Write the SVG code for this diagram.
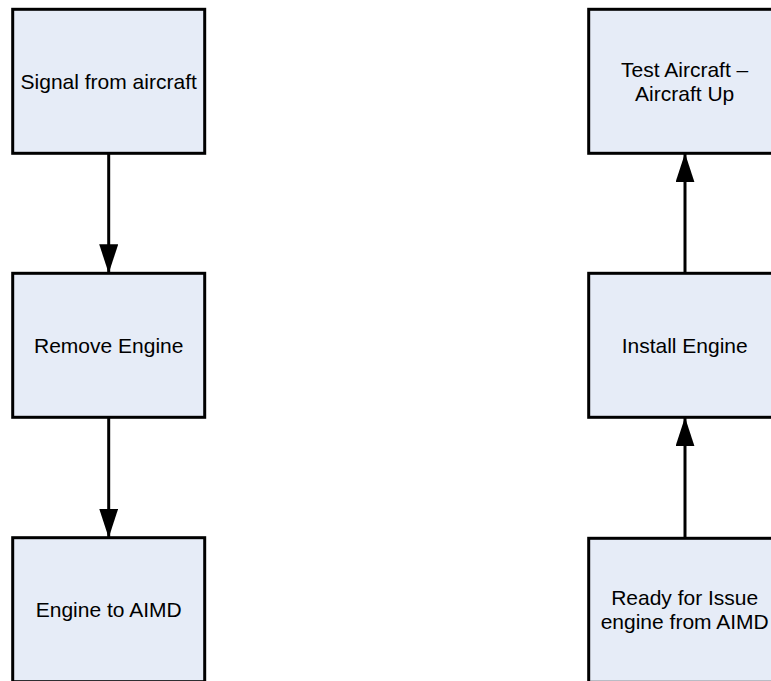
<svg xmlns="http://www.w3.org/2000/svg" width="771" height="681" viewBox="0 0 771 681">
<style>
.box{fill:#E6ECF7;stroke:#000;stroke-width:3}
.lbl{font-family:"Liberation Sans",Arial,sans-serif;font-size:21px;fill:#000;text-anchor:middle}
.conn{stroke:#000;stroke-width:3;fill:none;marker-end:url(#ah)}
</style>
<defs>
<marker id="ah" markerUnits="userSpaceOnUse" markerWidth="30" markerHeight="20" refX="29" refY="9.5" orient="auto" viewBox="0 0 30 20">
<path d="M0,0 L29,9.5 L0,19 Z" fill="#000"/>
</marker>
</defs>
<rect x="0" y="0" width="771" height="681" fill="#fff"/>
<g id="connectors">
<line class="conn" x1="108.7" y1="153.3" x2="108.7" y2="273.3"/>
<line class="conn" x1="108.7" y1="417.3" x2="108.7" y2="537.7"/>
<line class="conn" x1="685" y1="273.3" x2="685" y2="153.3"/>
<line class="conn" x1="685" y1="538.3" x2="685" y2="417.3"/>
</g>
<g id="n1"><rect class="box" x="12.7" y="9.3" width="192" height="144"/><text class="lbl" x="108.7" y="88.5">Signal from aircraft</text></g>
<g id="n2"><rect class="box" x="12.7" y="273.3" width="192" height="144"/><text class="lbl" x="108.7" y="352.5">Remove Engine</text></g>
<g id="n3"><rect class="box" x="12.7" y="537.7" width="192" height="144"/><text class="lbl" x="108.7" y="617">Engine to AIMD</text></g>
<g id="n4"><rect class="box" x="588.7" y="9.3" width="192" height="144"/><text class="lbl" x="684.7" y="76.5">Test Aircraft –</text><text class="lbl" x="684.7" y="100.5">Aircraft Up</text></g>
<g id="n5"><rect class="box" x="588.7" y="273.3" width="192" height="144"/><text class="lbl" x="684.7" y="352.5">Install Engine</text></g>
<g id="n6"><rect class="box" x="588.7" y="538.3" width="192" height="144"/><text class="lbl" x="684.7" y="605">Ready for Issue</text><text class="lbl" x="684.7" y="629">engine from AIMD</text></g>
</svg>
